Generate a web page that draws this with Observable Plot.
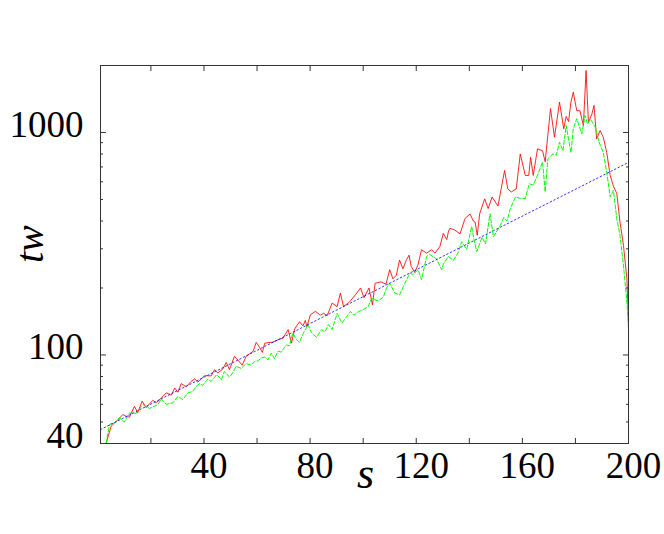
<!DOCTYPE html>
<html><head><meta charset="utf-8">
<script src="https://cdn.jsdelivr.net/npm/d3@7"></script>
<script src="https://cdn.jsdelivr.net/npm/@observablehq/plot@0.6"></script>
<style>body{margin:0;background:#fff}</style>
</head><body><div id="chart"></div>
<script>
// x tick values and labels
const xTicks = [20, 40, 60, 80, 100, 120, 140, 160, 180];
const xLabels = [40, 80, 120, 160, 200];
// y tick values and labels (log scale)
const yMajor = [100, 1000];
const yMinor = [50, 60, 70, 80, 90, 200, 300, 400, 500, 600, 700, 800, 900];
const yLabels = [40, 100, 1000];

// red (solid) series
const redS = [3.1,5,6.3,7.5,9.4,10.7,11.9,13.8,15,16.7,18.2,20.7,22,23.9,25.8,27.7,29,30.2,31.4,33.3,35.2,36.5,37.7,39,40.2,42.7,44,45.2,47.1,48.4,49.6,51.5,53.4,54.4,55.9,58.5,59.7,60.9,62,62.9,66,67.9,69.8,71.7,73,74.2,76,77.3,78.2,78.8,80.1,82,83.9,85.1,86.4,88.3,90.2,91.4,92.6,94.6,97.1,99,100.3,102.2,103.5,104.5,106.7,108.6,110,111.2,112.5,113.7,115,116.2,117.3,118.1,119.4,120.6,122,123.9,125.8,127.1,128.9,130.2,131.5,132.1,132.7,134.6,136.5,138.4,140.3,141.5,142.2,143,143.9,145.8,147.1,148.6,150.8,152,153.3,154.5,155.8,157.7,159.2,161.1,162.4,163.1,164.1,165.7,167.6,168.6,170.6,172.1,174,175.6,176.5,177.4,178.3,179.2,180.5,181.7,183,184,184.9,186.2,187,188,189.3,190.5,191.8,193.1,194.3,195.6,196.8,198.1,199.4,200];
const redV = [40,47.8,49.5,51,54,53,52.5,58.8,55,62,58,62.5,61,64,67.6,66,71,68,74.3,72,76.1,78,75.5,78,80.7,80.5,85.9,83,86.5,92.6,86,98.6,93,90,98.6,103.8,113.9,108.5,102.7,113,114.3,117,119,130,113,131,141,135,143,134,151.5,157,151,154,150,171,165,189.7,165,172,186.4,200,181,200,168,210,213,208,241.6,220,228,267,244,266,281,250,235,253,297,287,297,287,307,352,330,357,371,364,350,411,430,400,395,345,431,503,455,513,467,558,675,558,540,558,801,641,641,774,641,844,827,738,1280,952,1369,1039,1180,1120,1370,1517,1253,1253,1074,1900,1112,1210,1324,935,1020,952,812,641,575,531,396,311,220,140];

// green (dashed) series
const greenS = [3.1,4.4,6.9,8.1,10,11.9,14.3,17,19.5,22.6,23.9,25.8,28.3,30.2,32,34,35.8,37.1,38.3,39.5,41.5,42.7,44.8,46.6,47.7,49.6,50.8,52.1,54,55.9,57.8,59.1,60.3,61.6,62.9,64.1,65.4,66.6,67.9,69.1,71,72.2,73.5,74.7,76,77.5,79.2,80.5,82.4,84.3,85.6,86.9,88.3,90.2,92,93.3,95.2,96.5,98.4,99.6,101.9,103.2,104.4,105.7,107.6,108.8,110,111.9,113.7,115.7,117.6,118.8,120.7,122,123.9,125.1,127.7,129.6,130.2,132.1,134,135.9,137.1,139,140.9,141.6,142.8,144.8,146.1,147.8,149.1,151.7,153,154.2,155.5,157.4,159.3,161.1,162.6,164.1,165.7,167.6,168.6,169.6,171.5,172.8,174,175.3,176.5,178.3,179.2,180.5,182.4,183.6,184.6,185.6,187.6,188.9,190.5,191.8,193.1,194.3,195.6,196.8,198.1,199.4,200];
const greenV = [40,48.7,50,52.2,50,54.9,54.5,59.8,57.5,59.8,63.5,60,61,65.2,63,67.6,68.6,72.3,74.3,73,78,76,81.6,77.5,84.4,79.5,83,88.9,87,91.4,90,93.6,94,96.9,98,95,102,96,104,103,111,110,125.5,118,114,125.5,137,126,120,130,127,137,130,154,139,146,157,151,157,159,165,180,177,175,182,200,210,190,186,210,233,230,241.6,218,277,283,270,241.6,256,277,266,290,323,298,378,338,291,338,315,431,340,383,415,400,457,513,505,505,588,580,641,738,541,762,801,790,904,827,1074,812,1039,1153,985,1193,1090,1150,1050,904,812,663,513,550,409,345,253,173,132];

// blue (dotted) fit line
const fitS = [1, 200];
const fitV = [46.2, 733.6];

// axis titles
const yTitle = ["t", "w"];
const xTitle = "s";

const red = redS.map((s, i) => ({s, v: redV[i]}));
const green = greenS.map((s, i) => ({s, v: greenV[i]}));
const fit = fitS.map((s, i) => ({s, v: fitV[i]}));

const serif = "'Liberation Serif', 'Times New Roman', serif";
const ink = "#333";

const chart = Plot.plot({
  width: 664, height: 534,
  marginLeft: 100, marginRight: 36, marginTop: 65, marginBottom: 91,
  style: {background: "#fff", fontFamily: serif},
  x: {domain: [1, 200]},
  y: {type: "log", domain: [40, 2000]},
  marks: [
    Plot.line(red, {x: "s", y: "v", stroke: "#ff0000", strokeOpacity: 0.85, strokeWidth: 1, clip: true}),
    Plot.line(green, {x: "s", y: "v", stroke: "#00ff00", strokeWidth: 1, strokeDasharray: "4,2", clip: true}),
    Plot.line(fit, {x: "s", y: "v", stroke: "#0000ff", strokeOpacity: 0.8, strokeWidth: 1, strokeDasharray: "1.5,2.5", clip: true}),
    Plot.frame({stroke: ink}),
    Plot.axisX(xTicks, {anchor: "bottom", tickSize: 5, dy: -5, fill: "none", label: null, stroke: ink}),
    Plot.axisX(xTicks, {anchor: "top", tickSize: 5, dy: 5, fill: "none", label: null, stroke: ink}),
    Plot.axisX(xLabels, {anchor: "bottom", tickSize: 0, tickPadding: 8.5, dx: 5, label: null, fontSize: 37, fontFamily: serif, fill: "#000", tickFormat: d => String(d)}),
    Plot.axisY(yMajor, {anchor: "left", tickSize: 6, dx: 6, fill: "none", label: null, stroke: ink}),
    Plot.axisY(yMinor, {anchor: "left", tickSize: 3, dx: 3, fill: "none", label: null, stroke: ink}),
    Plot.axisY(yMajor, {anchor: "right", tickSize: 6, dx: -6, fill: "none", label: null, stroke: ink}),
    Plot.axisY(yMinor, {anchor: "right", tickSize: 3, dx: -3, fill: "none", label: null, stroke: ink}),
    Plot.axisY(yLabels, {anchor: "left", tickSize: 0, tickPadding: 17, dy: -7.5, label: null, fontSize: 37, fontFamily: serif, fill: "#000", tickFormat: d => String(d)}),
    Plot.text([yTitle[0]], {frameAnchor: "left", text: d => d, rotate: -90, textAnchor: "start", lineAnchor: "middle", fontStyle: "italic", fontSize: 40, fontFamily: serif, dx: -70.3, dy: 8.5, fill: "#000"}),
    Plot.text([yTitle[1]], {frameAnchor: "left", text: d => d, rotate: -90, textAnchor: "start", lineAnchor: "middle", fontStyle: "italic", fontSize: 40, fontFamily: serif, dx: -70.3, dy: -2.6, fill: "#000"}),
    Plot.text([xTitle], {frameAnchor: "bottom", text: d => d, lineAnchor: "bottom", fontStyle: "italic", fontSize: 44, fontFamily: serif, dx: 1, dy: 44, fill: "#000"})
  ]
});
document.getElementById("chart").appendChild(chart);
</script>
</body></html>
